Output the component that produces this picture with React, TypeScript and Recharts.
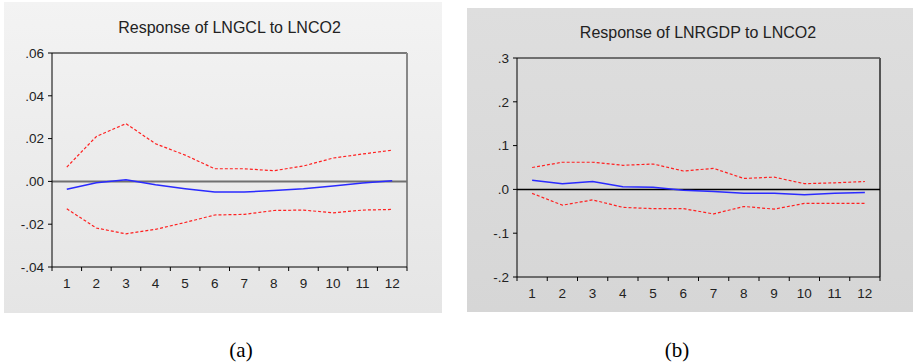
import { LineChart, Line, XAxis, YAxis, ReferenceLine } from 'recharts';

// impulse response steps
const steps = [1, 2, 3, 4, 5, 6, 7, 8, 9, 10, 11, 12];

// (a) Response of LNGCL to LNCO2
const gclResp = [-0.0037, -0.0006, 0.0008, -0.0016, -0.0034, -0.005, -0.005, -0.0043, -0.0034, -0.0021, -0.0008, 0.0003];
const gclUpper = [0.0067, 0.021, 0.027, 0.0176, 0.0123, 0.0059, 0.0059, 0.005, 0.0072, 0.0109, 0.0128, 0.0146];
const gclLower = [-0.0128, -0.0218, -0.0245, -0.0224, -0.0192, -0.0157, -0.0154, -0.0136, -0.0134, -0.0147, -0.0134, -0.0131];
const gclTicks = [-0.04, -0.02, 0, 0.02, 0.04, 0.06];

// (b) Response of LNRGDP to LNCO2
const gdpResp = [0.021, 0.013, 0.018, 0.006, 0.005, -0.002, -0.005, -0.009, -0.009, -0.012, -0.009, -0.007];
const gdpUpper = [0.05, 0.062, 0.062, 0.055, 0.058, 0.042, 0.048, 0.025, 0.028, 0.013, 0.015, 0.018];
const gdpLower = [-0.009, -0.036, -0.024, -0.041, -0.044, -0.044, -0.056, -0.039, -0.045, -0.032, -0.032, -0.032];
const gdpTicks = [-0.2, -0.1, 0, 0.1, 0.2, 0.3];

const FONT = '"Liberation Sans", Arial, sans-serif';

type PanelProps = {
  left: number;
  top: number;
  width: number;
  height: number;
  bg: string;
  yAxisW: number;
  mTop: number;
  mRight: number;
  xAxisH: number;
  ticks: number[];
  digits: number;
  resp: number[];
  upper: number[];
  lower: number[];
  zeroColor: string;
  zeroWidth: number;
  rightColor: string;
};

const fmt = (digits: number) => (v: number) =>
  v.toFixed(digits).replace('0.', '.');

function Panel(p: PanelProps) {
  const data = steps.map((s, i) => ({
    step: s,
    resp: p.resp[i],
    upper: p.upper[i],
    lower: p.lower[i],
  }));
  const bounds = steps.map((s) => s - 0.5).concat(steps[steps.length - 1] + 0.5);
  const plotW = p.width - p.yAxisW - p.mRight;
  const half = plotW / (steps.length * 2);
  const lo = p.ticks[0];
  const hi = p.ticks[p.ticks.length - 1];

  const XTick = (props: any) => {
    const { x, y, payload } = props;
    const last = payload.value >= bounds[bounds.length - 1];
    return (
      <g>
        <line x1={x} x2={x} y1={y} y2={y + 4} stroke="#000" />
        {!last && (
          <text x={x + half} y={y + 21} textAnchor="middle" fontSize={13.5} fill="#222" fontFamily={FONT}>
            {payload.value + 0.5}
          </text>
        )}
      </g>
    );
  };

  return (
    <div
      style={{
        position: 'absolute',
        left: p.left,
        top: p.top,
        width: p.width,
        height: p.height,
        background: p.bg,
      }}
    >
      <LineChart
        width={p.width}
        height={p.height}
        data={data}
        margin={{ top: p.mTop, right: p.mRight, bottom: 0, left: 0 }}
      >
        <XAxis
          dataKey="step"
          type="number"
          domain={[bounds[0], bounds[bounds.length - 1]]}
          ticks={bounds}
          interval={0}
          height={p.xAxisH}
          tickLine={false}
          tickSize={0}
          tickMargin={0}
          axisLine={{ stroke: '#000' }}
          tick={<XTick />}
        />
        <YAxis
          type="number"
          domain={[lo, hi]}
          ticks={p.ticks}
          interval={0}
          width={p.yAxisW}
          tickSize={4}
          tickMargin={4}
          tickFormatter={fmt(p.digits)}
          axisLine={{ stroke: '#000' }}
          tickLine={{ stroke: '#000' }}
          tick={{ fontSize: 13.5, fill: '#222', fontFamily: FONT }}
        />
        <ReferenceLine y={hi} stroke="#000" />
        <ReferenceLine x={bounds[bounds.length - 1]} stroke={p.rightColor} strokeWidth={2} />
        <ReferenceLine y={0} stroke={p.zeroColor} strokeWidth={p.zeroWidth} />
        <Line type="linear" dataKey="upper" stroke="#ff2020" strokeWidth={1.2} strokeDasharray="3 2" dot={false} isAnimationActive={false} />
        <Line type="linear" dataKey="lower" stroke="#ff2020" strokeWidth={1.2} strokeDasharray="3 2" dot={false} isAnimationActive={false} />
        <Line type="linear" dataKey="resp" stroke="#2a2aff" strokeWidth={1.5} dot={false} isAnimationActive={false} />
      </LineChart>
    </div>
  );
}

export default function App() {
  return (
    <div style={{ position: 'absolute', left: 0, top: 0, width: 913, height: 364, background: '#fff' }}>
      <Panel
        left={4}
        top={2}
        width={438}
        height={311}
        bg="linear-gradient(#f3f3f3, #e5e5e5)"
        yAxisW={48}
        mTop={51}
        mRight={35}
        xAxisH={46}
        ticks={gclTicks}
        digits={2}
        resp={gclResp}
        upper={gclUpper}
        lower={gclLower}
        zeroColor="#707070"
        zeroWidth={2}
        rightColor="#888"
      />
      <Panel
        left={467}
        top={8}
        width={446}
        height={304}
        bg="linear-gradient(#dedede, #d6d6d6)"
        yAxisW={50}
        mTop={50}
        mRight={33}
        xAxisH={35}
        ticks={gdpTicks}
        digits={1}
        resp={gdpResp}
        upper={gdpUpper}
        lower={gdpLower}
        zeroColor="#000"
        zeroWidth={1.5}
        rightColor="#555"
      />
      <svg
        width={913}
        height={364}
        style={{ position: 'absolute', left: 0, top: 0, pointerEvents: 'none' }}
      >
        <text x={229.5} y={33} textAnchor="middle" fontSize={16} fill="#222" fontFamily={FONT}>
          Response of LNGCL to LNCO2
        </text>
        <text x={698} y={38} textAnchor="middle" fontSize={16} fill="#222" fontFamily={FONT}>
          Response of LNRGDP to LNCO2
        </text>
        <text x={241} y={357} textAnchor="middle" fontSize={21} fill="#000" fontFamily='"Liberation Serif", "Times New Roman", serif'>
          (a)
        </text>
        <text x={677} y={357} textAnchor="middle" fontSize={21} fill="#000" fontFamily='"Liberation Serif", "Times New Roman", serif'>
          (b)
        </text>
      </svg>
    </div>
  );
}
